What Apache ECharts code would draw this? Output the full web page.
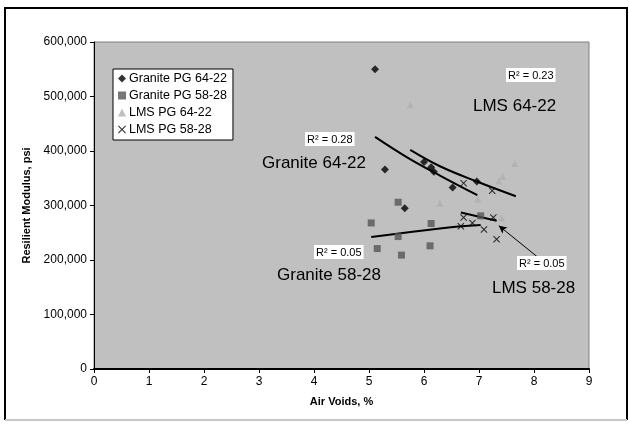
<!DOCTYPE html>
<html>
<head>
<meta charset="utf-8">
<script src="https://cdn.jsdelivr.net/npm/echarts@6/dist/echarts.min.js"></script>
<style>
  html, body { margin: 0; padding: 0; background: #fff; }
  #chart { width: 629px; height: 424px; }
</style>
</head>
<body>
<div id="chart"></div>
<script>
  // resilient modulus (psi) against air voids (%)
  const granite6422 = [[5.11, 550000], [5.29, 366000], [5.65, 295000], [6.0, 380000],
    [6.13, 370000], [6.18, 362000], [6.52, 333000], [6.96, 344000]]
  const granite5828 = [[5.04, 268000], [5.15, 221000], [5.53, 306000], [5.53, 243000],
    [5.59, 209000], [6.11, 226000], [6.13, 267000], [7.03, 281000]]
  const lms6422 = [[5.75, 485000], [6.29, 304000], [6.98, 312000], [7.36, 345000],
    [7.41, 277000], [7.43, 353000], [7.65, 377000]]
  const lms5828 = [[6.67, 262000], [6.72, 278000], [6.72, 341000], [6.88, 268000],
    [7.09, 256000], [7.24, 327000], [7.26, 278000], [7.32, 238000]]

  // trend lines as drawn in the picture
  const trendGranite6422 = [[5.11, 426000], [5.7, 388000], [6.29, 355000], [6.97, 319000]]
  const trendLms6422 = [[5.75, 402000], [6.29, 372000], [6.96, 344000], [7.67, 317000]]
  const trendGranite5828 = [[5.04, 242000], [6.29, 258000], [7.03, 264000]]
  const trendLms5828 = [[6.67, 287000], [7.32, 272000]]

  const seriesNames = ['Granite PG 64-22', 'Granite PG 58-28', 'LMS PG 64-22', 'LMS PG 58-28']
  const xTicks = [0, 1, 2, 3, 4, 5, 6, 7, 8, 9]
  const yTicks = [0, 100000, 200000, 300000, 400000, 500000, 600000]

  const crossIcon = 'path://M1,0L5,4L9,0L10,1L6,5L10,9L9,10L5,6L1,10L0,9L4,5L0,1Z'

  const chart = echarts.init(document.getElementById('chart'))

  const trendLine = function (data) {
    return {
      type: 'line',
      data: data,
      smooth: 0.4,
      showSymbol: false,
      silent: true,
      lineStyle: { color: '#000', width: 2 },
      z: 3
    }
  }

  const lmsTrend = trendLine(trendLms5828)
  // arrow from the LMS 58-28 R2 box to its trend line
  lmsTrend.markLine = {
    silent: true,
    symbol: ['none', 'arrow'],
    symbolSize: [6, 8],
    label: { show: false },
    lineStyle: { color: '#000', width: 1, type: 'solid' },
    data: [[{ coord: [8.07, 205000] }, { coord: [7.36, 263000] }]]
  }

  const note = function (text, x, y, size, boxed) {
    return {
      type: 'text',
      left: x,
      top: y,
      z: 10,
      style: {
        text: text,
        fill: '#000',
        font: size + 'px "Liberation Sans", Arial, sans-serif',
        backgroundColor: boxed ? '#fff' : null,
        padding: boxed ? [2, 2, 1, 2] : 0
      }
    }
  }

  chart.setOption({
    animation: false,
    textStyle: { fontFamily: '"Liberation Sans", Arial, sans-serif' },
    grid: {
      left: 94,
      right: 40,
      top: 42,
      bottom: 55,
      show: true,
      backgroundColor: '#c0c0c0',
      borderColor: '#808080',
      borderWidth: 1
    },
    legend: {
      orient: 'vertical',
      left: 113,
      top: 69,
      padding: [3, 6, 4, 5],
      itemGap: 4,
      itemWidth: 8,
      itemHeight: 8,
      backgroundColor: '#fff',
      borderColor: '#000',
      borderWidth: 1,
      borderRadius: 0,
      textStyle: { fontSize: 12.5, color: '#000', padding: [0, 0, 0, -2] },
      data: [
        { name: seriesNames[0], icon: 'diamond' },
        { name: seriesNames[1], icon: 'rect' },
        { name: seriesNames[2], icon: 'triangle' },
        { name: seriesNames[3], icon: crossIcon }
      ]
    },
    xAxis: {
      type: 'value',
      min: xTicks[0],
      max: xTicks[xTicks.length - 1],
      interval: 1,
      name: 'Air Voids, %',
      nameLocation: 'middle',
      nameGap: 27,
      nameTextStyle: { fontWeight: 'bold', fontSize: 11, color: '#000' },
      axisLine: { onZero: false, lineStyle: { color: '#000', width: 2 } },
      axisTick: { inside: false, length: 4, lineStyle: { color: '#000' } },
      axisLabel: { fontSize: 12, color: '#000', margin: 7 },
      splitLine: { show: false }
    },
    yAxis: {
      type: 'value',
      min: yTicks[0],
      max: yTicks[yTicks.length - 1],
      interval: 100000,
      name: 'Resilient Modulus, psi',
      nameLocation: 'middle',
      nameGap: 53,
      nameTextStyle: { fontWeight: 'bold', fontSize: 11, color: '#000' },
      axisLine: { show: true, lineStyle: { color: '#000', width: 1 } },
      axisTick: { show: true, inside: false, length: 4, lineStyle: { color: '#000' } },
      axisLabel: {
        fontSize: 12,
        color: '#000',
        margin: 7,
        formatter: function (v) { return v.toLocaleString('en-US') }
      },
      splitLine: { show: false }
    },
    series: [
      {
        name: seriesNames[0],
        type: 'scatter',
        symbol: 'diamond',
        symbolSize: 8,
        itemStyle: { color: '#000' },
        data: granite6422,
        z: 4
      },
      {
        name: seriesNames[1],
        type: 'scatter',
        symbol: 'rect',
        symbolSize: 7,
        itemStyle: { color: '#555' },
        data: granite5828,
        z: 4
      },
      {
        name: seriesNames[2],
        type: 'scatter',
        symbol: 'triangle',
        symbolSize: 7,
        itemStyle: { color: '#afafaf' },
        data: lms6422,
        z: 2
      },
      {
        name: seriesNames[3],
        type: 'scatter',
        symbol: crossIcon,
        symbolSize: 7,
        itemStyle: { color: '#000' },
        data: lms5828,
        z: 4
      },
      trendLine(trendGranite6422),
      trendLine(trendLms6422),
      trendLine(trendGranite5828),
      lmsTrend
    ],
    graphic: [
      // chart frame
      { type: 'polyline', silent: true, shape: { points: [[5, 420], [5, 8], [627, 8], [627, 420]] },
        style: { stroke: '#000', lineWidth: 2, fill: null } },
      { type: 'line', silent: true, shape: { x1: 5, y1: 420, x2: 627, y2: 420 },
        style: { stroke: '#c8c8c8', lineWidth: 2 } },
      note('R² = 0.28', 305, 132, 11, true),
      note('Granite 64-22', 262, 155, 17, false),
      note('R² = 0.23', 506, 68, 11, true),
      note('LMS 64-22', 473, 98, 17, false),
      note('R² = 0.05', 314, 245, 11, true),
      note('Granite 58-28', 277, 267, 17, false),
      note('R² = 0.05', 517, 256, 11, true),
      note('LMS 58-28', 492, 280, 17, false)
    ]
  })
</script>
</body>
</html>
